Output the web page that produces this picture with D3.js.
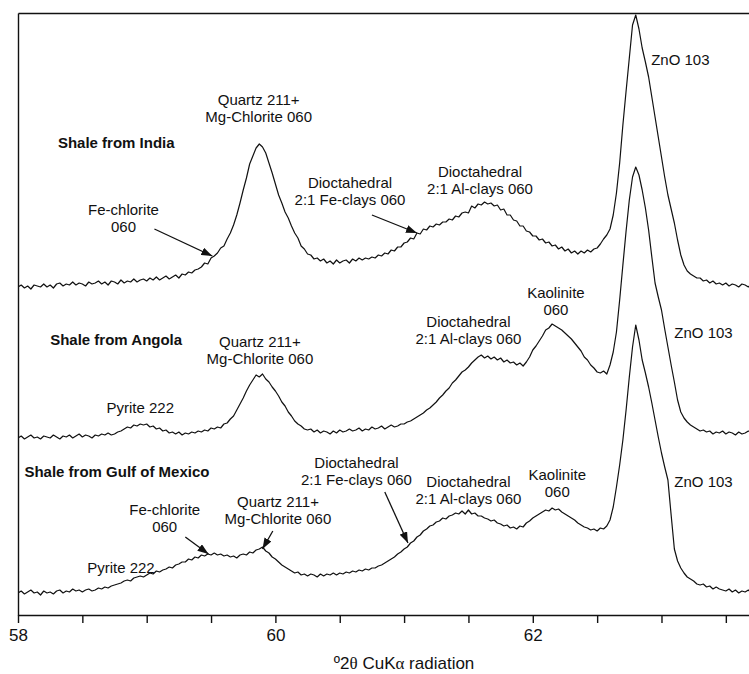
<!DOCTYPE html>
<html>
<head>
<meta charset="utf-8">
<script src="https://cdn.jsdelivr.net/npm/d3@7"></script>
<style>
  body { margin: 0; background: #fff; }
  svg text { font-family: "Liberation Sans", Arial, sans-serif; fill: #111; }
  .axis path, .axis line { stroke: #111; stroke-width: 1.4; }
  .trace { fill: none; stroke: #111; stroke-width: 1.2; stroke-linejoin: round; }
  .pointer { stroke: #111; stroke-width: 1.3; }
</style>
</head>
<body>
<div id="chart"></div>
<script>
// 2theta positions (deg) that each pattern was read at, one row per half degree
const twoTheta = [
  58.000, 58.025, 58.050, 58.075, 58.100, 58.125, 58.150, 58.175, 58.200, 58.225, 58.250, 58.275, 58.300, 58.325, 58.350, 58.375, 58.400, 58.425, 58.450, 58.475,
  58.500, 58.525, 58.550, 58.575, 58.600, 58.625, 58.650, 58.675, 58.700, 58.725, 58.750, 58.775, 58.800, 58.825, 58.850, 58.875, 58.900, 58.925, 58.950, 58.975,
  59.000, 59.025, 59.050, 59.075, 59.100, 59.125, 59.150, 59.175, 59.200, 59.225, 59.250, 59.275, 59.300, 59.325, 59.350, 59.375, 59.400, 59.425, 59.450, 59.475,
  59.500, 59.525, 59.550, 59.575, 59.600, 59.625, 59.650, 59.675, 59.700, 59.725, 59.750, 59.775, 59.800, 59.825, 59.850, 59.875, 59.900, 59.925, 59.950, 59.975,
  60.000, 60.025, 60.050, 60.075, 60.100, 60.125, 60.150, 60.175, 60.200, 60.225, 60.250, 60.275, 60.300, 60.325, 60.350, 60.375, 60.400, 60.425, 60.450, 60.475,
  60.500, 60.525, 60.550, 60.575, 60.600, 60.625, 60.650, 60.675, 60.700, 60.725, 60.750, 60.775, 60.800, 60.825, 60.850, 60.875, 60.900, 60.925, 60.950, 60.975,
  61.000, 61.025, 61.050, 61.075, 61.100, 61.125, 61.150, 61.175, 61.200, 61.225, 61.250, 61.275, 61.300, 61.325, 61.350, 61.375, 61.400, 61.425, 61.450, 61.475,
  61.500, 61.525, 61.550, 61.575, 61.600, 61.625, 61.650, 61.675, 61.700, 61.725, 61.750, 61.775, 61.800, 61.825, 61.850, 61.875, 61.900, 61.925, 61.950, 61.975,
  62.000, 62.025, 62.050, 62.075, 62.100, 62.125, 62.150, 62.175, 62.200, 62.225, 62.250, 62.275, 62.300, 62.325, 62.350, 62.375, 62.400, 62.425, 62.450, 62.475,
  62.500, 62.525, 62.550, 62.575, 62.600, 62.625, 62.650, 62.675, 62.700, 62.725, 62.750, 62.775, 62.800, 62.825, 62.850, 62.875, 62.900, 62.925, 62.950, 62.975,
  63.000, 63.025, 63.050, 63.075, 63.100, 63.125, 63.150, 63.175, 63.200, 63.225, 63.250, 63.275, 63.300, 63.325, 63.350, 63.375, 63.400, 63.425, 63.450, 63.475,
  63.500, 63.525, 63.550, 63.575, 63.600, 63.625, 63.650, 63.675, 63.700
];

// intensities (arbitrary units, patterns already offset from each other)
const indiaCounts = [
  328, 330, 327, 329, 326, 330, 329, 328, 331, 328, 330, 327, 331, 332, 329, 331, 330, 333, 330, 332,
  331, 329, 333, 331, 332, 334, 331, 333, 330, 334, 333, 331, 335, 332, 334, 333, 336, 333, 335, 336,
  334, 337, 335, 338, 335, 337, 339, 336, 338, 340, 337, 341, 340, 343, 342, 345, 346, 348, 352, 351,
  357, 359, 362, 367, 369, 376, 382, 390, 400, 412, 425, 437, 451, 459, 467, 471, 468, 462, 452, 442,
  431, 420, 412, 403, 397, 389, 382, 377, 369, 366, 361, 360, 356, 357, 354, 356, 352, 354, 351, 355,
  352, 354, 355, 352, 356, 354, 357, 355, 357, 356, 358, 357, 360, 359, 362, 361, 365, 364, 368, 368,
  372, 373, 377, 376, 382, 381, 386, 385, 389, 388, 391, 390, 393, 393, 396, 395, 399, 398, 402, 403,
  402, 409, 407, 411, 410, 413, 411, 412, 409, 410, 405, 406, 400, 400, 395, 394, 389, 389, 384, 383,
  379, 379, 375, 376, 372, 373, 369, 370, 366, 368, 364, 366, 362, 364, 361, 364, 362, 365, 363, 366,
  367, 371, 376, 380, 386, 400, 422, 452, 490, 524, 557, 590, 600, 586, 567, 553, 538, 518, 498, 478,
  458, 438, 420, 406, 392, 375, 360, 350, 344, 341, 339, 337, 337, 334, 335, 332, 334, 331, 332, 330,
  332, 329, 331, 330, 328, 331, 330, 328, 331
];

const angolaCounts = [
  177, 179, 176, 178, 180, 177, 178, 176, 179, 178, 177, 180, 178, 176, 179, 178, 180, 177, 179, 181,
  178, 180, 179, 177, 180, 179, 181, 180, 182, 180, 181, 183, 184, 186, 188, 187, 190, 189, 191, 190,
  191, 188, 189, 186, 187, 184, 185, 182, 183, 181, 183, 180, 182, 181, 183, 182, 184, 183, 185, 184,
  187, 186, 188, 187, 191, 192, 196, 199, 205, 211, 217, 224, 230, 235, 240, 238, 241, 236, 233, 228,
  224, 219, 213, 209, 203, 199, 194, 191, 189, 186, 185, 186, 183, 185, 182, 184, 183, 181, 184, 182,
  185, 183, 184, 186, 184, 185, 187, 184, 186, 185, 188, 186, 187, 189, 186, 188, 190, 188, 189, 191,
  191, 193, 194, 196, 198, 200, 202, 205, 207, 210, 213, 217, 220, 224, 227, 232, 235, 239, 243, 245,
  248, 252, 255, 258, 260, 257, 259, 256, 258, 255, 257, 253, 255, 252, 253, 250, 252, 249, 253, 258,
  265, 269, 274, 279, 285, 287, 291, 289, 287, 285, 282, 279, 276, 272, 268, 264, 258, 255, 250, 247,
  243, 242, 244, 241, 250, 263, 283, 315, 350, 384, 415, 438, 448, 440, 425, 407, 385, 358, 332, 318,
  305, 286, 268, 250, 233, 215, 203, 197, 193, 190, 188, 186, 184, 185, 183, 184, 181, 183, 182, 184,
  181, 183, 182, 180, 183, 181, 182, 184, 182
];

const gulfCounts = [
  22, 24, 21, 23, 25, 22, 23, 20, 24, 22, 23, 21, 24, 25, 22, 24, 23, 26, 24, 25,
  23, 25, 26, 24, 25, 27, 26, 28, 27, 29, 30, 31, 32, 34, 35, 34, 37, 38, 39, 38,
  40, 42, 41, 44, 43, 45, 46, 48, 47, 50, 51, 53, 53, 56, 55, 58, 57, 60, 59, 61,
  60, 62, 60, 61, 59, 60, 58, 59, 57, 60, 61, 60, 63, 62, 65, 66, 68, 64, 62, 58,
  56, 53, 50, 48, 46, 44, 42, 43, 40, 41, 39, 41, 40, 38, 41, 39, 41, 40, 42, 40,
  42, 41, 43, 42, 44, 43, 45, 44, 46, 45, 47, 47, 49, 50, 52, 54, 56, 58, 61, 63,
  66, 68, 72, 74, 78, 80, 84, 86, 89, 90, 93, 94, 97, 96, 99, 100, 102, 101, 104, 101,
  105, 101, 102, 99, 99, 97, 96, 94, 95, 92, 91, 89, 90, 87, 88, 86, 89, 88, 92, 94,
  97, 99, 101, 103, 105, 104, 107, 105, 106, 103, 101, 99, 97, 95, 92, 90, 88, 87, 85, 86,
  84, 87, 86, 89, 95, 108, 128, 150, 175, 205, 238, 268, 290, 275, 255, 242, 228, 212, 195, 178,
  162, 148, 135, 100, 66, 54, 47, 42, 38, 36, 34, 31, 30, 31, 28, 29, 26, 28, 26, 25,
  24, 26, 23, 25, 22, 24, 23, 25, 22
];

const xTicks = [58, 58.5, 59, 59.5, 60, 60.5, 61, 61.5, 62, 62.5, 63, 63.5];
const xTickLabels = [58, 60, 62];

// peak names: [2theta, intensity] of the first line's baseline
const peakLabels = [
  { lines: ["Shale from India"], at: [58.31, 467], anchor: "start", bold: true },
  { lines: ["Quartz 211+", "Mg-Chlorite 060"], at: [59.87, 510] },
  { lines: ["Fe-chlorite", "060"], at: [58.82, 400] },
  { lines: ["Dioctahedral", "2:1 Fe-clays 060"], at: [60.58, 427] },
  { lines: ["Dioctahedral", "2:1 Al-clays 060"], at: [61.59, 438] },
  { lines: ["ZnO 103"], at: [62.92, 550], anchor: "start" },

  { lines: ["Shale from Angola"], at: [58.25, 270], anchor: "start", bold: true },
  { lines: ["Quartz 211+", "Mg-Chlorite 060"], at: [59.88, 268] },
  { lines: ["Pyrite 222"], at: [58.95, 202] },
  { lines: ["Dioctahedral", "2:1 Al-clays 060"], at: [61.50, 288] },
  { lines: ["Kaolinite", "060"], at: [62.18, 317] },
  { lines: ["ZnO 103"], at: [63.10, 277], anchor: "start" },

  { lines: ["Shale from Gulf of Mexico"], at: [58.05, 138], anchor: "start", bold: true },
  { lines: ["Dioctahedral", "2:1 Fe-clays 060"], at: [60.63, 147] },
  { lines: ["Fe-chlorite", "060"], at: [59.14, 100] },
  { lines: ["Quartz 211+", "Mg-Chlorite 060"], at: [60.02, 108] },
  { lines: ["Pyrite 222"], at: [58.80, 42] },
  { lines: ["Dioctahedral", "2:1 Al-clays 060"], at: [61.50, 128] },
  { lines: ["Kaolinite", "060"], at: [62.19, 135] },
  { lines: ["ZnO 103"], at: [63.10, 128], anchor: "start" }
];

// arrows pointing at shoulders: from [2theta, I] to [2theta, I]
const pointers = [
  { from: [59.06, 386], to: [59.51, 359] },
  { from: [60.75, 400], to: [61.10, 382] },
  { from: [60.85, 123], to: [61.03, 72] },
  { from: [59.30, 78], to: [59.48, 61] },
  { from: [59.98, 84], to: [59.90, 66] }
];

class XrdChart {

  constructor(_config, _data) {
    this.config = {
      parentElement: _config.parentElement,
      containerWidth: 749,
      containerHeight: 674,
      margin: { top: 13, right: 0, bottom: 59, left: 18 },
      xDomain: [58, 63.68],
      yDomain: [0, 602],
      lineGap: 17
    };
    this.data = _data;
    this.initVis();
  }

  initVis() {
    let vis = this;
    vis.width = vis.config.containerWidth - vis.config.margin.left - vis.config.margin.right;
    vis.height = vis.config.containerHeight - vis.config.margin.top - vis.config.margin.bottom;

    vis.xScale = d3.scaleLinear().domain(vis.config.xDomain).range([0, vis.width]);
    vis.yScale = d3.scaleLinear().domain(vis.config.yDomain).range([vis.height, 0]);

    vis.svg = d3.select(vis.config.parentElement)
      .append('svg')
      .attr('width', vis.config.containerWidth)
      .attr('height', vis.config.containerHeight);

    const defs = vis.svg.append('defs');
    defs.append('clipPath')
      .attr('id', 'plot-clip')
      .append('rect')
      .attr('width', vis.width)
      .attr('height', vis.height + 2)
      .attr('y', -2);

    defs.append('marker')
      .attr('id', 'head')
      .attr('markerUnits', 'userSpaceOnUse')
      .attr('markerWidth', 11)
      .attr('markerHeight', 8)
      .attr('refX', 11)
      .attr('refY', 4)
      .attr('orient', 'auto')
      .append('path')
      .attr('d', 'M0,0 L11,4 L0,8 z')
      .attr('fill', '#111');

    vis.chart = vis.svg.append('g')
      .attr('transform', `translate(${vis.config.margin.left},${vis.config.margin.top})`);

    vis.xAxis = d3.axisBottom(vis.xScale)
      .tickValues(xTicks)
      .tickSize(8)
      .tickSizeOuter(0)
      .tickPadding(6)
      .tickFormat(d => xTickLabels.includes(d) ? d : '');

    vis.xAxisG = vis.chart.append('g')
      .attr('class', 'axis x-axis')
      .attr('transform', `translate(0,${vis.height})`);

    // frame: left and top lines only, no ticks
    vis.chart.append('g')
      .attr('class', 'axis')
      .call(d3.axisLeft(vis.yScale).tickValues([]).tickSizeOuter(0));
    vis.chart.append('g')
      .attr('class', 'axis')
      .call(d3.axisTop(vis.xScale).tickValues([]).tickSizeOuter(0));

    vis.line = d3.line()
      .x((d, i) => vis.xScale(twoTheta[i]))
      .y(d => vis.yScale(d));

    vis.renderVis();
  }

  renderVis() {
    let vis = this;

    vis.chart.append('g')
      .attr('clip-path', 'url(#plot-clip)')
      .selectAll('.trace')
      .data(vis.data)
      .join('path')
      .attr('class', 'trace')
      .attr('d', d => vis.line(d));

    vis.xAxisG.call(vis.xAxis);
    vis.xAxisG.selectAll('text')
      .style('font-family', '"Liberation Sans", Arial, sans-serif')
      .style('font-size', '17px')
      .attr('fill', '#111');

    // axis title
    const title = vis.chart.append('text')
      .attr('x', vis.xScale(61.0))
      .attr('y', vis.height + 54)
      .attr('text-anchor', 'middle')
      .style('font-size', '17px');
    title.append('tspan').text('º2');
    title.append('tspan').style('font-family', '"Liberation Serif", serif').text('θ');
    title.append('tspan').text(' CuK');
    title.append('tspan').style('font-family', '"Liberation Serif", serif').text('α');
    title.append('tspan').text(' radiation');

    // peak labels
    const labels = vis.chart.selectAll('.peak-label')
      .data(peakLabels)
      .join('text')
      .attr('class', 'peak-label')
      .attr('text-anchor', d => d.anchor || 'middle')
      .style('font-size', '15px')
      .style('font-weight', d => d.bold ? 'bold' : 'normal');

    labels.selectAll('tspan')
      .data(d => d.lines.map(t => ({ t, d })))
      .join('tspan')
      .attr('x', o => vis.xScale(o.d.at[0]))
      .attr('y', (o, i) => vis.yScale(o.d.at[1]) + i * vis.config.lineGap)
      .text(o => o.t);

    vis.chart.selectAll('.pointer')
      .data(pointers)
      .join('line')
      .attr('class', 'pointer')
      .attr('x1', d => vis.xScale(d.from[0]))
      .attr('y1', d => vis.yScale(d.from[1]))
      .attr('x2', d => vis.xScale(d.to[0]))
      .attr('y2', d => vis.yScale(d.to[1]))
      .attr('marker-end', 'url(#head)');
  }
}

new XrdChart({ parentElement: '#chart' }, [indiaCounts, angolaCounts, gulfCounts]);
</script>
</body>
</html>
